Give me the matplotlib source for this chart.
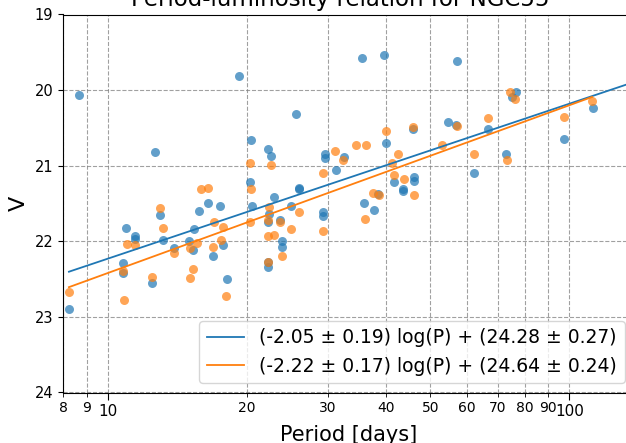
import numpy as np
import matplotlib
matplotlib.use("Agg")
import matplotlib.pyplot as plt
from matplotlib.ticker import ScalarFormatter, FixedLocator

# Периоды и звёздные величины (синяя выборка)
blue_period = [8.24, 8.65, 10.8, 10.8, 10.98, 11.45, 11.45, 12.5, 12.66, 13.0,
               13.2, 13.9, 15.0, 15.3, 15.4, 15.8, 16.5, 16.9, 17.5, 17.8,
               18.15, 19.2, 20.4, 20.3, 20.5, 22.2, 22.6, 22.9, 22.3, 22.2,
               22.2, 22.2, 23.6, 23.9, 23.9, 24.9, 25.6, 26.0, 26.0, 29.2,
               29.2, 29.6, 29.6, 31.2, 32.5, 35.5, 35.9, 37.8, 38.5, 40.1,
               39.7, 41.6, 43.6, 43.6, 46.0, 46.0, 45.9, 54.7, 56.9, 57.0,
               62.2, 66.6, 73.0, 76.7, 75.1, 97.2, 112.5]
blue_mag = [22.90, 20.06, 22.29, 22.42, 21.83, 21.93, 21.97, 22.55, 20.82, 21.65,
            21.98, 22.09, 21.99, 22.12, 21.84, 21.60, 21.49, 22.20, 21.53, 22.05,
            22.50, 19.81, 20.66, 21.22, 21.53, 20.78, 20.87, 21.42, 21.64, 21.74,
            22.28, 22.34, 21.72, 22.00, 22.07, 21.53, 20.31, 21.29, 21.31, 21.61,
            21.67, 20.84, 20.90, 21.06, 20.89, 19.58, 21.49, 21.58, 21.37, 20.70,
            19.54, 21.22, 21.31, 21.34, 21.15, 21.20, 20.51, 20.42, 20.46, 19.62,
            21.09, 20.51, 20.85, 20.03, 20.09, 20.65, 20.24]

# Оранжевая выборка
orange_period = [8.24, 10.85, 10.8, 10.99, 11.45, 12.5, 13.0, 13.2, 13.9, 15.1,
                 15.6, 15.3, 15.1, 15.9, 16.5, 16.9, 17.0, 17.8, 17.6, 18.0,
                 20.3, 20.4, 20.3, 22.6, 22.3, 22.2, 22.2, 22.9, 22.2, 23.6,
                 23.8, 24.9, 26.0, 29.3, 29.3, 31.1, 32.4, 34.5, 36.3, 36.0,
                 37.6, 38.6, 40.1, 41.2, 41.6, 42.6, 43.9, 45.9, 46.0, 52.9,
                 57.0, 62.0, 66.6, 73.1, 74.2, 76.3, 97.2, 112.0]
orange_mag = [22.67, 22.78, 22.39, 22.04, 22.05, 22.47, 21.56, 21.83, 22.16, 22.09,
              22.02, 22.37, 22.48, 21.31, 21.30, 22.07, 21.74, 21.81, 21.98, 22.73,
              20.96, 21.31, 21.75, 20.99, 21.54, 21.72, 21.93, 21.92, 22.27, 21.75,
              22.20, 21.84, 21.61, 21.09, 21.86, 20.81, 20.92, 20.73, 20.73, 21.70,
              21.36, 21.39, 20.54, 20.96, 21.12, 20.85, 21.18, 20.49, 21.39, 20.73,
              20.48, 20.84, 20.37, 20.93, 20.02, 20.12, 20.36, 20.15]

# Параметры подгонки V = a*log(P) + b
blue_fit = (-2.05, 0.19, 24.28, 0.27)
orange_fit = (-2.22, 0.17, 24.64, 0.24)

fig = plt.figure(figsize=(6.26, 4.43), dpi=100)
ax = fig.add_axes([63 / 626, 50.5 / 443, 571 / 626, 378 / 443])

ax.scatter(blue_period, blue_mag, s=42, color='tab:blue', alpha=0.7, lw=0)
ax.scatter(orange_period, orange_mag, s=42, color='tab:orange', alpha=0.7, lw=0)

p_blue = np.array([min(blue_period), 160])
p_orange = np.array([min(orange_period), max(orange_period)])
a, da, b, db = blue_fit
ax.plot(p_blue, a * np.log10(p_blue) + b, color='tab:blue', lw=1.3,
        label=f"({a:.2f} ± {da:.2f}) log(P) + ({b:.2f} ± {db:.2f})")
a, da, b, db = orange_fit
ax.plot(p_orange, a * np.log10(p_orange) + b, color='tab:orange', lw=1.3,
        label=f"({a:.2f} ± {da:.2f}) log(P) + ({b:.2f} ± {db:.2f})")

ax.set_xscale('log')
ax.set_xlim(8, 138)
ax.set_ylim(24, 19)
ax.set_yticks([19, 20, 21, 22, 23, 24])
ax.xaxis.set_major_locator(FixedLocator([10, 100]))
ax.xaxis.set_minor_locator(FixedLocator([8, 9, 20, 30, 40, 50, 60, 70, 80, 90]))
ax.xaxis.set_major_formatter(ScalarFormatter())
ax.xaxis.set_minor_formatter(ScalarFormatter())
ax.tick_params(axis='x', which='major', labelsize=11, length=5)
ax.tick_params(axis='x', which='minor', labelsize=10, length=3)
ax.tick_params(axis='y', labelsize=10.5)

ax.grid(True, which='both', linestyle='--', color='gray', alpha=0.75, lw=0.8)
ax.set_axisbelow(True)

ax.set_xlabel('Period [days]', fontsize=15)
ax.set_ylabel('V', fontsize=16)
ax.set_title('Period-luminosity relation for NGC55', fontsize=16.5, x=0.485)

ax.legend(loc='lower right', fontsize=13.5)

fig.savefig('out.png', dpi=100)
